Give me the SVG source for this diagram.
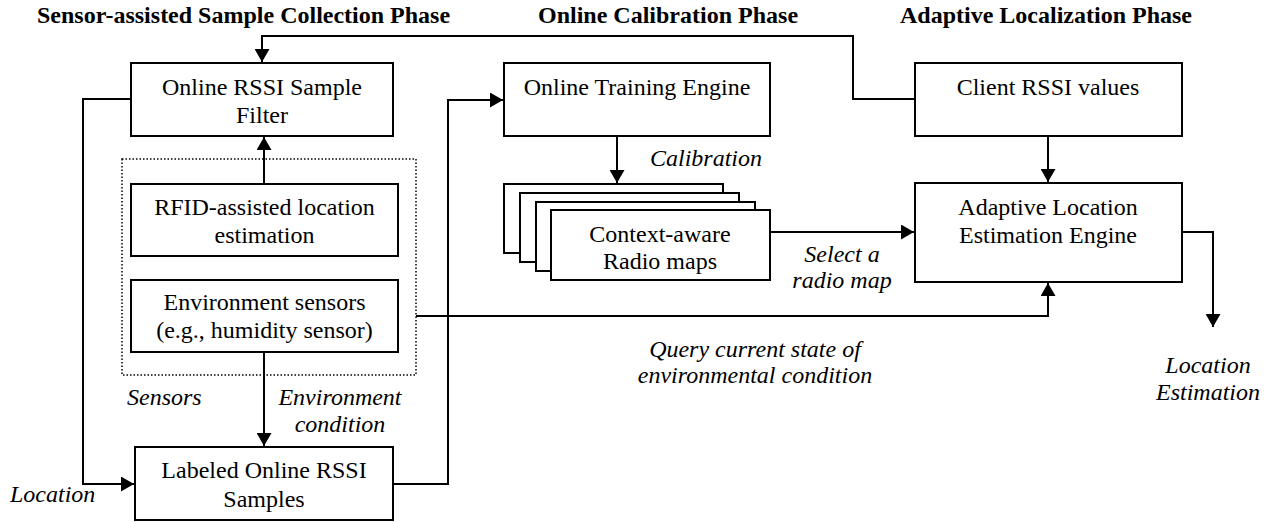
<svg xmlns="http://www.w3.org/2000/svg" width="1275" height="523" viewBox="0 0 1275 523">
<style>
text{font-family:"Liberation Serif","Times New Roman",serif;font-size:24px;fill:#000}
.t{font-weight:bold}
.c{text-anchor:middle}
.i{font-style:italic}
.box{fill:#fff;stroke:#000;stroke-width:2}
.dot{fill:none;stroke:#000;stroke-width:1.5;stroke-dasharray:1.5 2}
.ln{fill:none;stroke:#000;stroke-width:2}
</style>
<defs>
<marker id="ah" viewBox="0 0 13 15" markerWidth="13" markerHeight="15" refX="13" refY="7.5" orient="auto" markerUnits="userSpaceOnUse">
<path d="M0,0 L13,7.5 L0,15 z" fill="#000"/>
</marker>
</defs>
<g id="titles">
<text class="t" x="37" y="23">Sensor-assisted Sample Collection Phase</text>
<text class="t" x="538" y="23">Online Calibration Phase</text>
<text class="t" x="900" y="23">Adaptive Localization Phase</text>
</g>
<g id="sensors-group">
<rect class="dot" x="122" y="159" width="294" height="216"/>
<text class="i" x="127" y="405">Sensors</text>
</g>
<g id="connectors">
<path class="ln" d="M915,99 H853 V36 H262 V62" marker-end="url(#ah)"/>
<path class="ln" d="M131,99 H83 V484 H134" marker-end="url(#ah)"/>
<path class="ln" d="M264,184 V137" marker-end="url(#ah)"/>
<path class="ln" d="M264,352 V446" marker-end="url(#ah)"/>
<path class="ln" d="M393,484 H448 V100 H503" marker-end="url(#ah)"/>
<path class="ln" d="M617,136 V183" marker-end="url(#ah)"/>
<path class="ln" d="M770,232 H914" marker-end="url(#ah)"/>
<path class="ln" d="M416,316 H1048 V283" marker-end="url(#ah)"/>
<path class="ln" d="M1048,136 V182" marker-end="url(#ah)"/>
<path class="ln" d="M1182,232 H1213 V327" marker-end="url(#ah)"/>
<text class="i" x="10" y="502">Location</text>
<text class="i c" x="340" y="405">Environment</text>
<text class="i c" x="340" y="432">condition</text>
<text class="i" x="650" y="166">Calibration</text>
<text class="i c" x="842" y="262">Select a</text>
<text class="i c" x="842" y="288">radio map</text>
<text class="i c" x="755" y="357">Query current state of</text>
<text class="i c" x="755" y="383">environmental condition</text>
<text class="i c" x="1208" y="373">Location</text>
<text class="i c" x="1208" y="400">Estimation</text>
</g>
<g id="filter">
<rect class="box" x="131" y="63" width="262" height="73"/>
<text class="c" x="262" y="95">Online RSSI Sample</text>
<text class="c" x="262" y="123">Filter</text>
</g>
<g id="rfid">
<rect class="box" x="131" y="184" width="267" height="72"/>
<text class="c" x="264.5" y="215">RFID-assisted location</text>
<text class="c" x="264.5" y="243">estimation</text>
</g>
<g id="env">
<rect class="box" x="131" y="280" width="267" height="72"/>
<text class="c" x="264.5" y="310">Environment sensors</text>
<text class="c" x="264.5" y="338">(e.g., humidity sensor)</text>
</g>
<g id="labeled">
<rect class="box" x="135" y="447" width="258" height="73"/>
<text class="c" x="264" y="478">Labeled Online RSSI</text>
<text class="c" x="264" y="507">Samples</text>
</g>
<g id="training">
<rect class="box" x="504" y="63" width="266" height="73"/>
<text class="c" x="637" y="95">Online Training Engine</text>
</g>
<g id="radiomaps">
<rect class="box" x="504" y="184" width="219" height="69"/>
<rect class="box" x="520" y="193" width="219" height="69"/>
<rect class="box" x="536" y="202" width="219" height="69"/>
<rect class="box" x="551" y="210" width="219" height="70"/>
<text class="c" x="660" y="242">Context-aware</text>
<text class="c" x="660" y="269">Radio maps</text>
</g>
<g id="client">
<rect class="box" x="915" y="63" width="267" height="73"/>
<text class="c" x="1048" y="95">Client RSSI values</text>
</g>
<g id="adaptive">
<rect class="box" x="915" y="183" width="267" height="99"/>
<text class="c" x="1048" y="215">Adaptive Location</text>
<text class="c" x="1048" y="243">Estimation Engine</text>
</g>
</svg>
